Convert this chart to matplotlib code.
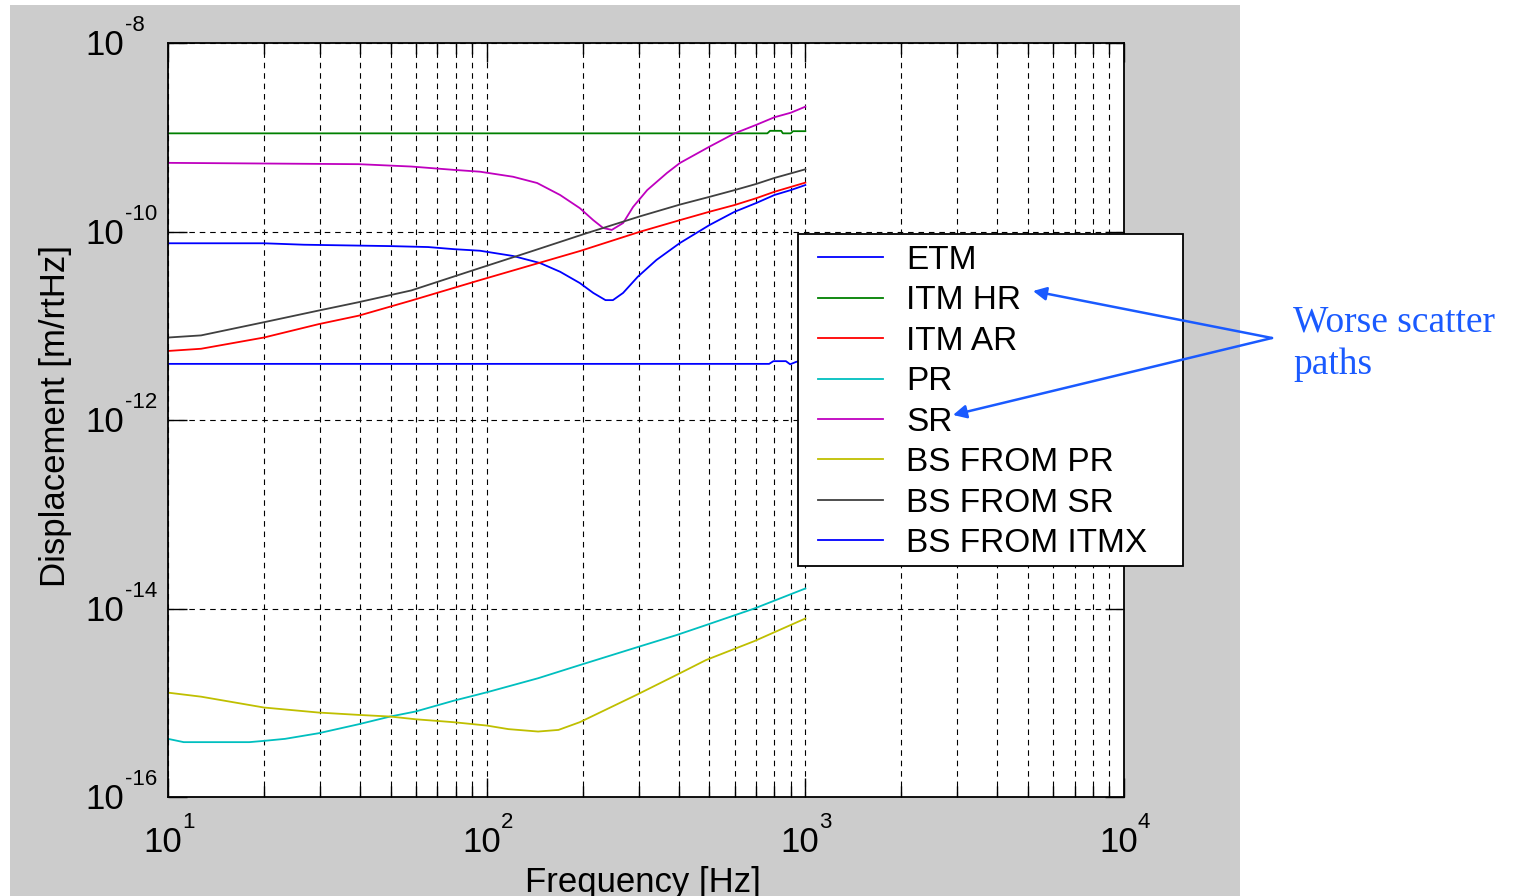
import math

import matplotlib

matplotlib.use("Agg")

import matplotlib.pyplot as plt
from matplotlib.patches import FancyArrowPatch, Rectangle
from matplotlib.ticker import FixedLocator, LogLocator, NullFormatter, NullLocator
from matplotlib.transforms import blended_transform_factory, offset_copy

plt.rcParams["font.family"] = ["Liberation Sans", "DejaVu Sans"]
plt.rcParams["lines.scale_dashes"] = False

# --- data (frequency in Hz, displacement in m/rtHz) ---
etm_f = [10, 20, 26.7, 49.8, 65.5, 78.7, 95.3, 121, 147, 170, 196, 216, 236, 249, 268, 298, 341, 404,
         500, 600, 700, 800, 900, 1000]
etm_d = [7.5e-11, 7.5e-11, 7.24e-11, 7.0e-11, 6.84e-11, 6.5e-11, 6.25e-11, 5.5e-11, 4.63e-11, 3.74e-11,
         2.84e-11, 2.23e-11, 1.87e-11, 1.87e-11, 2.23e-11, 3.31e-11, 4.99e-11, 7.55e-11,
         1.17e-10, 1.62e-10, 2.0e-10, 2.44e-10, 2.75e-10, 3.11e-10]

itm_hr_f = [10, 760, 775, 840, 850, 900, 915, 1000]
itm_hr_d = [1.1e-9, 1.1e-9, 1.17e-9, 1.17e-9, 1.1e-9, 1.1e-9, 1.16e-9, 1.16e-9]

itm_ar_f = [10, 12.7, 20, 29.7, 39.7, 58, 95.3, 196, 303, 404, 500, 600, 700, 800, 1000]
itm_ar_d = [5.4e-12, 5.7e-12, 7.5e-12, 1.04e-11, 1.28e-11, 1.85e-11, 3.05e-11, 6.2e-11, 9.95e-11, 1.32e-10,
            1.62e-10, 1.91e-10, 2.25e-10, 2.64e-10, 3.3e-10]

pr_f = [10, 11.2, 18, 20, 23.3, 29.7, 39.7, 49.8, 59.8, 78.7, 100, 145, 196, 295, 394, 488, 692, 1000]
pr_d = [4.14e-16, 3.82e-16, 3.82e-16, 3.94e-16, 4.14e-16, 4.75e-16, 5.92e-16, 7.14e-16, 8.07e-16, 1.05e-15,
        1.29e-15, 1.82e-15, 2.51e-15, 3.86e-15, 5.22e-15, 6.67e-15, 1.0e-14, 1.63e-14]

sr_f = [10, 39.7, 58, 78.7, 95.3, 121, 144, 170, 196, 216, 232, 247, 268, 288, 319, 368, 404,
        500, 600, 700, 800, 900, 1000]
sr_d = [5.35e-10, 5.18e-10, 4.89e-10, 4.51e-10, 4.31e-10, 3.81e-10, 3.27e-10, 2.44e-10, 1.77e-10, 1.32e-10,
        1.09e-10, 1.04e-10, 1.23e-10, 1.82e-10, 2.75e-10, 4.18e-10, 5.33e-10,
        7.94e-10, 1.1e-9, 1.35e-9, 1.63e-9, 1.82e-9, 2.11e-9]

bs_pr_f = [10, 12.7, 20, 29.7, 39.7, 49.8, 59.8, 78.7, 100, 117, 145, 168, 196, 295, 394, 488, 692, 1000]
bs_pr_d = [1.28e-15, 1.16e-15, 8.9e-16, 7.87e-16, 7.43e-16, 7.14e-16, 6.68e-16, 6.22e-16, 5.73e-16, 5.25e-16,
           4.95e-16, 5.15e-16, 6.22e-16, 1.21e-15, 1.97e-15, 2.84e-15, 4.51e-15, 7.83e-15]

bs_sr_f = [10, 12.7, 20, 29.7, 39.7, 58, 95.3, 137, 206, 303, 404, 500, 600, 700, 800, 1000]
bs_sr_d = [7.5e-12, 7.9e-12, 1.09e-11, 1.45e-11, 1.78e-11, 2.37e-11, 4.1e-11, 6.1e-11, 9.6e-11, 1.45e-10,
           1.93e-10, 2.33e-10, 2.75e-10, 3.19e-10, 3.7e-10, 4.57e-10]

bs_itmx_f = [10, 770, 794, 869, 896, 938, 1000]
bs_itmx_d = [3.94e-12, 3.94e-12, 4.21e-12, 4.21e-12, 3.9e-12, 4.15e-12, 4.15e-12]

labels = ["ETM", "ITM HR", "ITM AR", "PR", "SR", "BS FROM PR", "BS FROM SR", "BS FROM ITMX"]
colors = ["#0000ff", "#008000", "#ff0000", "#00bfbf", "#bf00bf", "#bfbf00", "#404040", "#0000ff"]
y_ticks = [1e-16, 1e-14, 1e-12, 1e-10, 1e-8]

W, H = 1516, 896
fig = plt.figure(figsize=(W / 100, H / 100), dpi=100)
fig.patch.set_facecolor("white")
fig.patches.append(Rectangle((10 / W, 0), 1230 / W, 891 / H, transform=fig.transFigure,
                             facecolor="#cccccc", edgecolor="none", zorder=-1))

ax = fig.add_axes([168 / W, 99 / H, 956 / W, 754 / H])
ax.set_facecolor("white")

series = [(etm_f, etm_d), (itm_hr_f, itm_hr_d), (itm_ar_f, itm_ar_d), (pr_f, pr_d),
          (sr_f, sr_d), (bs_pr_f, bs_pr_d), (bs_sr_f, bs_sr_d), (bs_itmx_f, bs_itmx_d)]
for (f, d), lab, c in zip(series, labels, colors):
    ax.loglog(f, d, color=c, lw=1.3, label=lab)

ax.set_xlim(10, 1e4)
ax.set_ylim(1e-16, 1e-8)

ax.xaxis.set_major_locator(LogLocator(base=10, numticks=10))
ax.xaxis.set_minor_locator(LogLocator(base=10, subs=range(2, 10), numticks=30))
ax.xaxis.set_major_formatter(NullFormatter())
ax.xaxis.set_minor_formatter(NullFormatter())
ax.yaxis.set_major_locator(FixedLocator(y_ticks))
ax.yaxis.set_minor_locator(NullLocator())
ax.yaxis.set_major_formatter(NullFormatter())

ax.tick_params(which="both", direction="in", top=True, right=True, width=1, colors="k")
ax.tick_params(which="major", length=14)
ax.tick_params(which="minor", length=8)

dash = (0, (4, 3.5))
ax.grid(True, which="major", color="k", linestyle=dash, linewidth=0.8)
ax.grid(True, which="minor", axis="x", color="k", linestyle=dash, linewidth=0.8)
ax.set_axisbelow(True)
for s in ax.spines.values():
    s.set_linewidth(1.3)

# MATLAB-style "10" with a raised exponent
xt = blended_transform_factory(ax.transData, ax.transAxes)
yt = blended_transform_factory(ax.transAxes, ax.transData)
for v in ax.xaxis.get_majorticklocs():
    if 10 <= v <= 1e4:
        e = round(math.log10(v))
        ax.text(v, 0, "10", fontsize=25, ha="right", va="baseline",
                transform=offset_copy(xt, fig=fig, x=14, y=-55, units="dots"))
        ax.text(v, 0, str(e), fontsize=16, ha="left", va="baseline",
                transform=offset_copy(xt, fig=fig, x=14, y=-31, units="dots"))
for v in y_ticks:
    e = round(math.log10(v))
    ax.text(0, v, "10", fontsize=25, ha="right", va="baseline",
            transform=offset_copy(yt, fig=fig, x=-44, y=-12, units="dots"))
    ax.text(0, v, str(e), fontsize=16, ha="left", va="baseline",
            transform=offset_copy(yt, fig=fig, x=-43, y=12, units="dots"))

ax.set_xlabel("Frequency [Hz]", fontsize=25)
ax.set_ylabel("Displacement [m/rtHz]", fontsize=25)
ax.xaxis.set_label_coords(0.497, -0.0915)
ax.yaxis.set_label_coords(-0.10, 0.505)

# legend: plain box behind, entries placed inside it
ax.add_patch(Rectangle((798 / W, 1 - 566 / H), 385 / W, 332 / H, transform=fig.transFigure,
                       facecolor="white", edgecolor="k", lw=1.3, clip_on=False, zorder=4))
leg = ax.legend(loc="upper left", bbox_to_anchor=(818 / W, 1 - 245 / H), bbox_transform=fig.transFigure,
                borderaxespad=0, borderpad=0, fontsize=24, handlelength=1.95, handletextpad=0.69,
                labelspacing=0.283, frameon=False)
leg.set_zorder(5)

blue = "#1a5aff"
for tx, ty in [(1033, 291), (953, 415)]:
    fig.add_artist(FancyArrowPatch((1272 / W, 1 - 338 / H), (tx / W, 1 - ty / H), transform=fig.transFigure,
                                   arrowstyle="-|>", mutation_scale=20, color=blue, lw=1.8,
                                   shrinkA=0, shrinkB=0, zorder=6))
fig.text(1293 / W, 1 - 305 / H, "Worse scatter\npaths", color=blue, fontsize=27, va="top", ha="left",
         family=["Liberation Serif", "DejaVu Serif"], linespacing=1.31)

fig.savefig("out.png", dpi=100)
